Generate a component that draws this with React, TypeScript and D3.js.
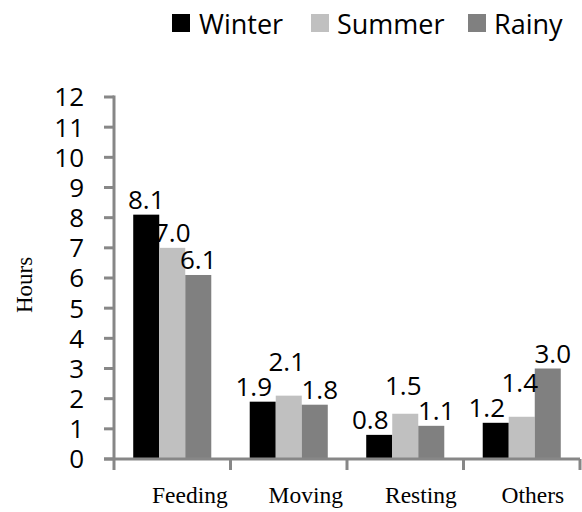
import React from "react";
import * as d3 from "d3";

const categories = ["Feeding", "Moving", "Resting", "Others"];
const seriesNames = ["Winter", "Summer", "Rainy"];
const winter = [8.1, 1.9, 0.8, 1.2];
const summer = [7.0, 2.1, 1.5, 1.4];
const rainy = [6.1, 1.8, 1.1, 3.0];
const yTicks = [0, 1, 2, 3, 4, 5, 6, 7, 8, 9, 10, 11, 12];
const colors = ["#000000", "#c0c0c0", "#808080"];

const W = 582;
const H = 512;
const SANS = "'Open Sans', 'Noto Sans', sans-serif";
const SERIF = "'Liberation Serif', 'Times New Roman', serif";

export default function App() {
  const series = [winter, summer, rainy];
  const axisX = 114;
  const x = d3.scaleBand<string>().domain(categories).range([axisX, 580]).paddingInner(0).paddingOuter(0);
  const y = d3.scaleLinear().domain([0, 12]).range([459, 97]);
  const groupW = x.bandwidth() * 0.67;
  const xs = d3.scaleBand<string>().domain(seriesNames).range([0, groupW]).padding(0);
  const axisColor = "#878787";
  const labelH = 25;

  const labels: { x: number; y: number; t: string }[] = [];
  categories.forEach((c, ci) => {
    const x0 = (x(c) as number) + (x.bandwidth() - groupW) / 2;
    const base = series.map((s, si) => ({
      cx: x0 + (xs(seriesNames[si]) as number) + xs.bandwidth() / 2,
      by: y(s[ci]) - 6,
      t: d3.format(".1f")(s[ci]),
    }));
    const [l, m, r] = base;
    const cl = Math.abs(m.by - l.by) < labelH;
    const cr = Math.abs(m.by - r.by) < labelH;
    if (cl || cr) {
      const ref = Math.min(cl ? l.by : Infinity, cr ? r.by : Infinity);
      m.by = ref - labelH;
      m.cx -= 2;
      l.cx -= 9;
      r.cx += 5;
    }
    base.forEach((b) => labels.push({ x: b.cx, y: b.by, t: b.t }));
  });

  const legendItems = [
    { sx: 172, tx: 199 },
    { sx: 311, tx: 337 },
    { sx: 468, tx: 494 },
  ];

  return (
    <svg width={W} height={H} style={{ position: "absolute", left: 0, top: 0, background: "#fff" }}>
      {/* legend */}
      {seriesNames.map((n, i) => (
        <g key={n}>
          <rect x={legendItems[i].sx} y={14} width={18} height={18} fill={colors[i]} />
          <text x={legendItems[i].tx} y={34} fontFamily={SANS} fontSize={27} fill="#000">
            {n}
          </text>
        </g>
      ))}

      {/* bars */}
      {categories.map((c, ci) => {
        const x0 = (x(c) as number) + (x.bandwidth() - groupW) / 2;
        return series.map((s, si) => (
          <rect
            key={c + si}
            x={x0 + (xs(seriesNames[si]) as number)}
            y={y(s[ci])}
            width={xs.bandwidth()}
            height={y(0) - y(s[ci])}
            fill={colors[si]}
          />
        ));
      })}

      {/* y axis */}
      <line x1={axisX} x2={axisX} y1={y(12) - 1.5} y2={y(0) + 11} stroke={axisColor} strokeWidth={3} />
      {yTicks.map((t) => (
        <g key={t}>
          <line x1={axisX - 10} x2={axisX} y1={y(t)} y2={y(t)} stroke={axisColor} strokeWidth={3} />
          <text x={84} y={y(t)} dy="0.36em" textAnchor="end" fontFamily={SANS} fontSize={26} fill="#000">
            {t}
          </text>
        </g>
      ))}

      {/* x axis */}
      <line x1={axisX - 10} x2={580} y1={y(0)} y2={y(0)} stroke={axisColor} strokeWidth={3} />
      {categories.map((c) => (
        <line
          key={c}
          x1={(x(c) as number) + x.bandwidth()}
          x2={(x(c) as number) + x.bandwidth()}
          y1={y(0)}
          y2={y(0) + 11}
          stroke={axisColor}
          strokeWidth={3}
        />
      ))}
      {categories.map((c) => (
        <text
          key={c}
          x={(x(c) as number) + 38}
          y={503}
          textAnchor="start"
          fontFamily={SERIF}
          fontSize={23.5}
          fill="#000"
        >
          {c}
        </text>
      ))}

      {/* data labels */}
      {labels.map((l, i) => (
        <text key={i} x={l.x} y={l.y} textAnchor="middle" fontFamily={SANS} fontSize={26} fill="#000">
          {l.t}
        </text>
      ))}

      {/* y title */}
      <text
        transform={`translate(32, 285) rotate(-90)`}
        textAnchor="middle"
        fontFamily={SERIF}
        fontSize={23}
        fill="#000"
      >
        Hours
      </text>
    </svg>
  );
}
